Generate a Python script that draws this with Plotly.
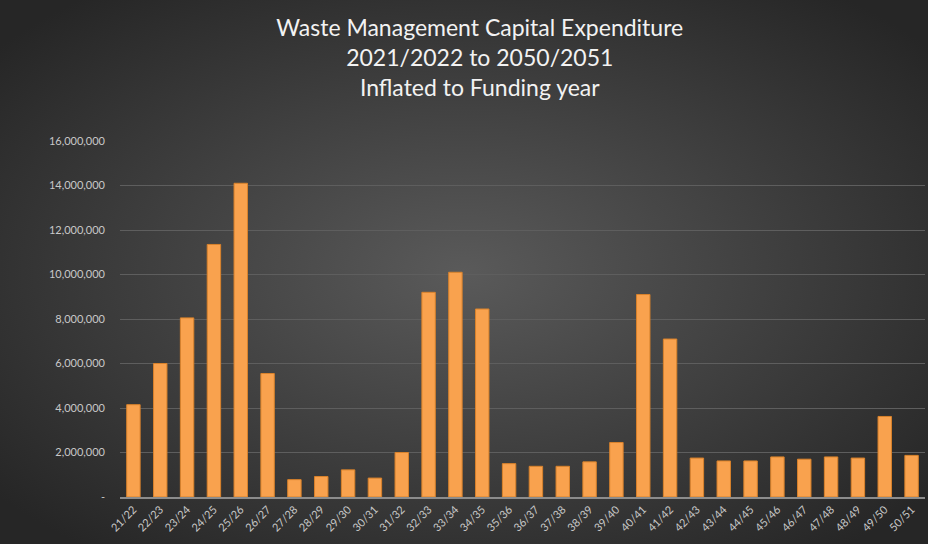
import base64
import plotly.graph_objects as go

years = ["21/22", "22/23", "23/24", "24/25", "25/26", "26/27", "27/28", "28/29", "29/30", "30/31",
         "31/32", "32/33", "33/34", "34/35", "35/36", "36/37", "37/38", "38/39", "39/40", "40/41",
         "41/42", "42/43", "43/44", "44/45", "45/46", "46/47", "47/48", "48/49", "49/50", "50/51"]
capex = [4150000, 6000000, 8050000, 11350000, 14100000, 5550000, 780000, 920000, 1220000, 850000,
         2000000, 9200000, 10100000, 8450000, 1500000, 1380000, 1380000, 1580000, 2450000, 9100000,
         7100000, 1750000, 1620000, 1620000, 1800000, 1700000, 1800000, 1750000, 3620000, 1870000]
tick_vals = [0, 2000000, 4000000, 6000000, 8000000, 10000000, 12000000, 14000000, 16000000]
tick_text = ["-", "2,000,000", "4,000,000", "6,000,000", "8,000,000", "10,000,000",
             "12,000,000", "14,000,000", "16,000,000"]

W, H = 928, 544
ml, mr, mt, mb = 120, 3, 141, 47
pw, ph = W - ml - mr, H - mt - mb

# radial dark background, lighter in the middle
svg = f"""<svg xmlns='http://www.w3.org/2000/svg' width='{W}' height='{H}' preserveAspectRatio='none'>
<defs><radialGradient id='g' cx='50%' cy='50%' r='65%'>
<stop offset='0%' stop-color='#5a5a5a'/><stop offset='100%' stop-color='#262626'/>
</radialGradient></defs><rect width='{W}' height='{H}' fill='url(#g)'/></svg>"""
bg = "data:image/svg+xml;base64," + base64.b64encode(svg.encode()).decode()

fig = go.Figure()
fig.add_trace(go.Bar(
    x=years,
    y=capex,
    marker=dict(color="#F9A24E", line=dict(color="#D9822B", width=1)),
))

fig.update_layout(
    width=W, height=H,
    margin=dict(l=ml, r=mr, t=mt, b=mb, autoexpand=False),
    paper_bgcolor="#3c3c3c",
    plot_bgcolor="rgba(0,0,0,0)",
    bargap=0.5,
    showlegend=False,
    title=dict(
        text="Waste Management Capital Expenditure<br>2021/2022 to 2050/2051<br>Inflated to Funding year",
        x=0.517, xanchor="center", y=0.934, yanchor="top",
        font=dict(family="Lato, Open Sans, sans-serif", size=23, color="#f2f2f2"),
    ),
    images=[dict(
        source=bg, xref="paper", yref="paper",
        x=-ml / pw, y=1 + mt / ph, sizex=W / pw, sizey=H / ph,
        xanchor="left", yanchor="top", sizing="stretch", layer="below",
    )],
)
fig.update_xaxes(
    tickangle=-45, automargin=False,
    tickfont=dict(family="Lato, sans-serif", size=11, color="#c8c8c8"),
    showline=True, linecolor="#8c8c8c", linewidth=2,
    showgrid=False, ticks="",
)
fig.update_yaxes(
    range=[0, 16000000], automargin=False,
    tickvals=tick_vals, ticktext=tick_text,
    tickfont=dict(family="Lato, sans-serif", size=11, color="#c8c8c8"),
    showgrid=True, gridcolor="#5e5e5e", gridwidth=1,
    zeroline=False, ticks="", ticklabelstandoff=14,
)

# drop the browser's default body margin so the chart fills the window
fig.write_html("out.html", config={"displayModeBar": False},
               post_script="document.body.style.margin='0';")
